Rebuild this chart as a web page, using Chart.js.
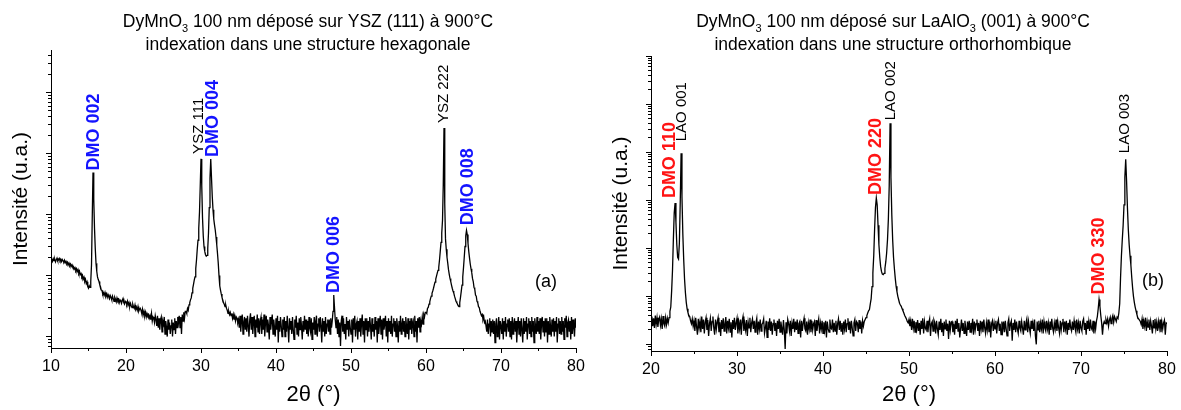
<!DOCTYPE html>
<html>
<head>
<meta charset="utf-8">
<script src="https://cdn.jsdelivr.net/npm/chart.js@4.4.0/dist/chart.umd.min.js"></script>
<style>
  body { margin: 0; background: #fff; }
  #wrap { position: relative; width: 1181px; height: 410px; }
  canvas { position: absolute; top: 0; }
  #left { left: 0; }
  #right { left: 590px; }
</style>
</head>
<body>
<div id="wrap">
  <canvas id="left" width="590" height="410"></canvas>
  <canvas id="right" width="591" height="410"></canvas>
</div>
<script>
// 2theta grid of the scans (deg)
const STEP = 0.1;
const leftStart = 10;
const rightStart = 20;

// (a) DyMnO3 on YSZ(111), counts every 0.1 deg from 10 to 80
const leftCounts = [
  178, 184, 171, 190, 176, 186, 168, 181, 193, 175,
  180, 191, 176, 186, 170, 183, 174, 168, 179, 162,
  171, 158, 166, 150, 160, 147, 155, 142, 150, 138,
  140, 128, 135, 122, 130, 117, 125, 110, 118, 104,
  108, 96, 101, 88, 94, 80, 86, 74, 79, 66,
  62, 68, 64, 80, 150, 900, 4900, 1800, 600, 280,
  160, 118, 95, 86, 80, 71, 66, 58, 57, 50,
  52, 48, 53, 46, 50, 44, 49, 45, 42, 47,
  44, 40, 46, 42, 38, 44, 41, 37, 43, 39,
  41, 36, 40, 38, 35, 39, 42, 36, 34, 38,
  37, 34, 38, 33, 36, 31, 35, 32, 30, 34,
  31, 29, 33, 28, 30, 27, 31, 26, 28, 29,
  27, 24, 28, 23, 26, 22, 25, 21, 24, 22,
  23, 20, 22, 19, 24, 18, 21, 20, 17, 22,
  19, 15, 22, 14, 20, 13, 19, 21, 12, 18,
  16, 21, 11, 18, 14, 10, 19, 13, 17, 11,
  15, 19, 10, 17, 13, 20, 11, 18, 14, 21,
  17, 22, 14, 21, 11, 23, 18, 25, 20, 26,
  26, 24, 29, 27, 33, 36, 40, 43, 52, 62,
  72, 84, 95, 130, 180, 270, 380, 600, 1100, 3000,
  8200, 3000, 900, 450, 300, 250, 220, 208, 215, 280,
  500, 1300, 4000, 8180, 4000, 2000, 1200, 850, 680, 560,
  430, 320, 230, 160, 100, 68, 58, 50, 44, 40,
  36, 34, 31, 33, 29, 27, 24, 26, 23, 25,
  22, 24, 20, 23, 19, 22, 18, 21, 20, 17,
  19, 14, 22, 12, 18, 23, 11, 17, 21, 13,
  20, 12, 22, 15, 10, 19, 24, 13, 21, 11,
  17, 22, 10, 19, 14, 23, 12, 20, 11, 18,
  21, 11, 19, 13, 23, 10, 17, 22, 12, 19,
  15, 9, 21, 13, 18, 23, 11, 19, 14, 10,
  20, 13, 22, 8, 18, 12, 21, 15, 10, 19,
  13, 21, 10, 18, 12, 22, 14, 8, 20, 13,
  18, 11, 21, 13, 9, 19, 14, 22, 11, 17,
  10, 20, 13, 21, 15, 9, 18, 12, 22, 13,
  19, 11, 18, 10, 21, 14, 12, 20, 9, 17,
  13, 21, 11, 18, 22, 10, 16, 20, 12, 21,
  15, 8, 20, 12, 18, 10, 21, 11, 16, 19,
  12, 19, 11, 20, 14, 18, 26, 48, 30, 19,
  14, 21, 11, 19, 10, 17, 7, 18, 22, 12,
  20, 11, 16, 9, 21, 13, 18, 10, 19, 14,
  11, 19, 8, 20, 13, 22, 10, 16, 18, 9,
  18, 12, 20, 10, 16, 23, 11, 18, 8, 20,
  13, 20, 10, 18, 12, 21, 15, 9, 20, 12,
  16, 10, 21, 13, 18, 8, 20, 11, 16, 22,
  11, 19, 9, 20, 13, 16, 22, 10, 18, 8,
  20, 12, 18, 11, 22, 10, 16, 20, 12, 18,
  10, 20, 15, 8, 18, 12, 22, 11, 16, 20,
  12, 18, 10, 21, 15, 11, 20, 9, 18, 13,
  20, 11, 16, 18, 10, 22, 12, 18, 8, 20,
  14, 21, 12, 18, 16, 21, 16, 23, 21, 25,
  25, 24, 29, 30, 34, 37, 42, 46, 51, 56,
  62, 70, 78, 88, 98, 110, 122, 137, 180, 250,
  350, 500, 800, 3000, 26200, 1500, 400, 270, 200, 160,
  125, 105, 90, 80, 70, 62, 56, 52, 46, 42,
  38, 36, 34, 32, 31, 36, 44, 55, 70, 95,
  135, 200, 300, 450, 552, 470, 340, 250, 195, 155,
  130, 112, 90, 80, 64, 60, 48, 46, 38, 36,
  31, 30, 26, 26, 22, 23, 19, 21, 17, 18,
  15, 12, 19, 11, 16, 20, 10, 18, 12, 19,
  11, 18, 8, 16, 20, 10, 14, 21, 9, 18,
  15, 11, 20, 9, 18, 12, 21, 10, 16, 19,
  12, 20, 10, 18, 9, 21, 11, 16, 20, 12,
  18, 8, 15, 21, 11, 18, 10, 20, 13, 8,
  20, 11, 18, 12, 21, 9, 16, 20, 11, 18,
  10, 21, 12, 18, 8, 20, 15, 11, 21, 12,
  18, 11, 20, 9, 16, 21, 12, 18, 10, 20,
  12, 20, 8, 18, 11, 21, 15, 10, 19, 12,
  20, 10, 18, 12, 21, 8, 16, 20, 11, 18,
  11, 21, 12, 18, 9, 20, 14, 22, 10, 17,
  19, 12, 18, 9, 21, 11, 19, 14, 10, 20,
  14
];

// (b) DyMnO3 on LaAlO3(001), counts every 0.1 deg from 20 to 80
const rightCounts = [
  30, 38, 24, 35, 22, 40, 26, 36, 23, 33,
  37, 25, 34, 21, 39, 27, 24, 36, 26, 35,
  28, 36, 49, 60, 130, 350, 1500, 5500, 8700, 3500,
  1200, 650, 600, 1300, 9000, 94800, 12000, 2000, 600, 230,
  120, 75, 55, 46, 40, 38, 31, 27, 34, 24,
  31, 19, 36, 23, 16, 34, 22, 30, 18, 38,
  21, 33, 17, 29, 36, 20, 32, 15, 27, 35,
  19, 30, 38, 22, 16, 33, 21, 29, 36, 18,
  29, 15, 32, 21, 35, 19, 27, 37, 17, 31,
  22, 34, 18, 29, 14, 32, 21, 36, 20, 28,
  35, 17, 29, 21, 33, 16, 31, 38, 19, 27,
  20, 32, 15, 29, 22, 36, 18, 28, 34, 21,
  31, 18, 28, 35, 16, 30, 21, 33, 19, 26,
  28, 34, 17, 22, 31, 14, 30, 20, 35, 19,
  30, 16, 27, 33, 19, 28, 15, 31, 21, 34,
  18, 30, 22, 16, 32, 20, 8, 29, 17, 33,
  27, 19, 31, 15, 28, 21, 34, 18, 30, 20,
  33, 17, 27, 30, 14, 31, 19, 28, 35, 21,
  19, 30, 16, 28, 21, 33, 18, 31, 20, 27,
  30, 15, 32, 19, 27, 34, 17, 28, 21, 31,
  17, 29, 20, 31, 14, 30, 21, 18, 33, 22,
  21, 33, 18, 28, 19, 31, 16, 27, 34, 20,
  31, 19, 28, 16, 30, 21, 33, 18, 27, 35,
  20, 30, 17, 31, 22, 15, 28, 33, 19, 30,
  28, 18, 32, 21, 30, 17, 31, 24, 30, 33,
  36, 40, 45, 50, 53, 70, 90, 160, 308, 700,
  2500, 7000, 11070, 8000, 3000, 1200, 650, 420, 330, 290,
  283, 300, 380, 520, 800, 1500, 4000, 20000, 398000, 30000,
  5000, 1500, 650, 380, 240, 162, 125, 100, 85, 72,
  66, 62, 55, 50, 45, 40, 37, 34, 30, 28,
  33, 24, 31, 20, 34, 22, 31, 18, 29, 21,
  32, 19, 28, 16, 31, 21, 35, 17, 30, 22,
  20, 31, 18, 28, 34, 15, 27, 30, 19, 32,
  28, 17, 31, 21, 16, 30, 20, 34, 18, 28,
  15, 30, 21, 33, 19, 27, 13, 31, 20, 29,
  30, 18, 27, 16, 31, 21, 34, 19, 28, 14,
  21, 33, 19, 28, 17, 31, 22, 15, 30, 20,
  31, 18, 28, 21, 34, 16, 30, 20, 27, 33,
  19, 28, 15, 31, 21, 30, 18, 33, 22, 17,
  28, 20, 33, 18, 30, 14, 27, 31, 19, 28,
  21, 31, 17, 28, 33, 19, 27, 16, 30, 20,
  30, 18, 31, 21, 15, 28, 34, 19, 27, 31,
  12, 28, 20, 33, 18, 30, 21, 17, 31, 22,
  19, 30, 22, 16, 31, 20, 28, 34, 18, 30,
  22, 17, 31, 21, 28, 19, 33, 15, 10, 30,
  20, 31, 18, 28, 21, 33, 17, 30, 22, 19,
  31, 21, 28, 16, 30, 20, 34, 22, 18, 28,
  21, 33, 19, 30, 22, 17, 31, 20, 28, 34,
  18, 30, 21, 31, 16, 28, 20, 33, 22, 19,
  30, 20, 31, 22, 18, 33, 21, 28, 17, 31,
  22, 19, 30, 34, 20, 28, 16, 31, 21, 30,
  19, 33, 22, 20, 31, 17, 30, 21, 31, 38,
  55, 86, 62, 40, 28, 16, 26, 30, 27, 33,
  28, 34, 24, 32, 37, 27, 35, 40, 29, 38,
  34, 30, 37, 35, 45, 70, 250, 700, 1500, 3000,
  8000, 30000, 71300, 25000, 7000, 2500, 1200, 700, 450, 250,
  150, 100, 75, 60, 50, 42, 36, 34, 32, 30,
  26, 34, 21, 31, 24, 36, 19, 30, 23, 33,
  20, 31, 24, 17, 32, 22, 34, 21, 29, 19,
  30, 22, 33, 18, 29, 21, 28, 32, 16, 28,
  27
];

// axes
const leftXTicks = [10, 20, 30, 40, 50, 60, 70, 80];
const rightXTicks = [20, 30, 40, 50, 60, 70, 80];
const leftDecades = [10, 100, 1000, 10000, 100000];
const rightDecades = [10, 100, 1000, 10000, 100000, 1000000, 10000000];
const leftYRange = [6.5, 500000];
const rightYRange = [7.3, 10000000];

// peak indexing: name, 2theta of the peak, 2theta where the label sits
const leftPeakNames = ['DMO 002', 'YSZ 111', 'DMO 004', 'DMO 006', 'YSZ 222', 'DMO 008'];
const leftPeakAt = [15.6, 30.0, 31.3, 47.7, 62.4, 65.4];
const leftLabelAt = [15.68, 29.72, 31.59, 47.77, 62.34, 65.55];
const rightPeakNames = ['DMO 110', 'LAO 001', 'DMO 220', 'LAO 002', 'DMO 330', 'LAO 003'];
const rightPeakAt = [22.8, 23.5, 46.2, 47.8, 72.1, 75.2];
const rightLabelAt = [22.21, 23.6, 46.16, 47.91, 72.09, 75.12];

const FONT = '"Liberation Sans", Arial, Helvetica, sans-serif';
Chart.defaults.font.family = FONT;
Chart.defaults.color = '#000';

// draws a line of text made of [text, isSubscript] pieces, centred on cx
function richText(ctx, parts, cx, y, size) {
  const big = size + 'px ' + FONT;
  const small = Math.round(size * 0.62) + 'px ' + FONT;
  let total = 0;
  parts.forEach(p => { ctx.font = p[1] ? small : big; total += ctx.measureText(p[0]).width; });
  let x = cx - total / 2;
  ctx.textAlign = 'left';
  ctx.textBaseline = 'middle';
  parts.forEach(p => {
    ctx.font = p[1] ? small : big;
    ctx.fillText(p[0], x, p[1] ? y + size * 0.38 : y);
    x += ctx.measureText(p[0]).width;
  });
}

function panel(canvasId, p) {
  const angles = p.counts.map((c, i) => +(p.start + i * STEP).toFixed(1));
  const points = p.counts.map((c, i) => ({ x: angles[i], y: c }));
  const xMin = p.xTicks[0], xMax = p.xTicks[p.xTicks.length - 1];

  const minorY = [];
  [1, 10, 100, 1e3, 1e4, 1e5, 1e6].forEach(d => {
    for (let m = 2; m <= 9; m++) {
      if (m * d > p.yRange[0] && m * d < p.yRange[1]) minorY.push(m * d);
    }
  });
  const minorX = p.xTicks.slice(0, -1).map(v => v + 5);

  const labelsPlugin = {
    id: 'labels' + canvasId,
    afterDraw(chart) {
      const ctx = chart.ctx, xs = chart.scales.x, ys = chart.scales.y, area = chart.chartArea;
      ctx.save();
      ctx.fillStyle = '#000';
      richText(ctx, p.title1, p.titleX, 22, 17.5);
      richText(ctx, p.title2, p.titleX, 45, 17.5);

      p.peakNames.forEach((name, k) => {
        const i = angles.findIndex(a => Math.abs(a - p.peakAt[k]) < 0.05);
        const px = xs.getPixelForValue(p.labelAt[k]);
        const py = ys.getPixelForValue(p.counts[i]) - p.gaps[k];
        const film = name.startsWith('DMO');
        ctx.save();
        ctx.translate(px, py);
        ctx.rotate(-Math.PI / 2);
        ctx.font = (film ? 'bold 18px ' : '15px ') + FONT;
        ctx.fillStyle = film ? p.filmColor : '#000';
        ctx.textAlign = 'left';
        ctx.textBaseline = 'middle';
        ctx.fillText(name, 0, 0);
        ctx.restore();
      });

      ctx.font = '18px ' + FONT;
      ctx.textAlign = 'center';
      ctx.textBaseline = 'middle';
      ctx.fillText(p.tag, area.left + p.tagPos[0] * area.width, area.top + p.tagPos[1] * area.height);
      ctx.restore();
    }
  };

  new Chart(document.getElementById(canvasId), {
    type: 'line',
    data: {
      datasets: [{
        data: points,
        xAxisID: 'x',
        yAxisID: 'y',
        borderColor: '#000',
        borderWidth: 1.3,
        pointRadius: 0,
        tension: 0,
        fill: false
      }]
    },
    options: {
      responsive: false,
      animation: false,
      layout: { padding: { top: p.box.top, right: p.box.width - p.box.right, left: 0, bottom: 0 } },
      plugins: { legend: { display: false }, tooltip: { enabled: false } },
      scales: {
        x: {
          type: 'linear', position: 'bottom', min: xMin, max: xMax,
          afterBuildTicks: s => { s.ticks = p.xTicks.map(v => ({ value: v })); },
          afterFit: s => { s.height = 410 - p.box.bottom; },
          ticks: { font: { size: 16 }, color: '#000', padding: 4, maxRotation: 0 },
          grid: { drawOnChartArea: false, tickLength: 5, tickColor: '#000' },
          border: { display: true, color: '#000', width: 1 },
          title: { display: true, text: '2θ (°)', font: { size: 22 }, color: '#000', padding: { top: 0, bottom: 2 } }
        },
        y: {
          type: 'logarithmic', position: 'left', min: p.yRange[0], max: p.yRange[1],
          afterBuildTicks: s => { s.ticks = p.decades.map(v => ({ value: v })); },
          afterFit: s => { s.width = p.box.left; },
          ticks: { display: false },
          grid: { drawOnChartArea: false, tickLength: 5, tickColor: '#000' },
          border: { display: true, color: '#000', width: 1 },
          title: { display: true, text: 'Intensité (u.a.)', font: { size: 21 }, color: '#000', padding: { top: p.yTitlePad, bottom: 0 } }
        },
        xMinor: {
          axis: 'x', type: 'linear', position: { y: p.yRange[0] }, min: xMin, max: xMax,
          afterBuildTicks: s => { s.ticks = minorX.map(v => ({ value: v })); },
          ticks: { display: false },
          grid: { drawOnChartArea: false, tickLength: 3, tickColor: '#000' },
          border: { display: false }
        },
        yMinor: {
          axis: 'y', type: 'logarithmic', position: { x: xMin }, min: p.yRange[0], max: p.yRange[1],
          afterBuildTicks: s => { s.ticks = minorY.map(v => ({ value: v })); },
          ticks: { display: false },
          grid: { drawOnChartArea: false, tickLength: 3, tickColor: '#000' },
          border: { display: false }
        }
      }
    },
    plugins: [labelsPlugin]
  });
}

panel('left', {
  counts: leftCounts, start: leftStart, xTicks: leftXTicks,
  decades: leftDecades, yRange: leftYRange,
  peakNames: leftPeakNames, peakAt: leftPeakAt, labelAt: leftLabelAt,
  gaps: [2, 5, 2, 2, 5, 5],
  filmColor: '#1414ff',
  title1: [['DyMnO', false], ['3', true], [' 100 nm déposé sur YSZ (111) à 900°C', false]],
  title2: [['indexation dans une structure hexagonale', false]],
  titleX: 308,
  tag: '(a)', tagPos: [0.943, 0.778],
  box: { left: 51, top: 50, right: 576, bottom: 348, width: 590 },
  yTitlePad: 9
});

panel('right', {
  counts: rightCounts, start: rightStart, xTicks: rightXTicks,
  decades: rightDecades, yRange: rightYRange,
  peakNames: rightPeakNames, peakAt: rightPeakAt, labelAt: rightLabelAt,
  gaps: [5, 12, 3, 3, 5, 6],
  filmColor: '#ff1414',
  title1: [['DyMnO', false], ['3', true], [' 100 nm déposé sur LaAlO', false], ['3', true], [' (001) à 900°C', false]],
  title2: [['indexation dans une structure orthorhombique', false]],
  titleX: 303,
  tag: '(b)', tagPos: [0.973, 0.764],
  box: { left: 61, top: 56, right: 577, bottom: 351, width: 591 },
  yTitlePad: 19
});
</script>
</body>
</html>
